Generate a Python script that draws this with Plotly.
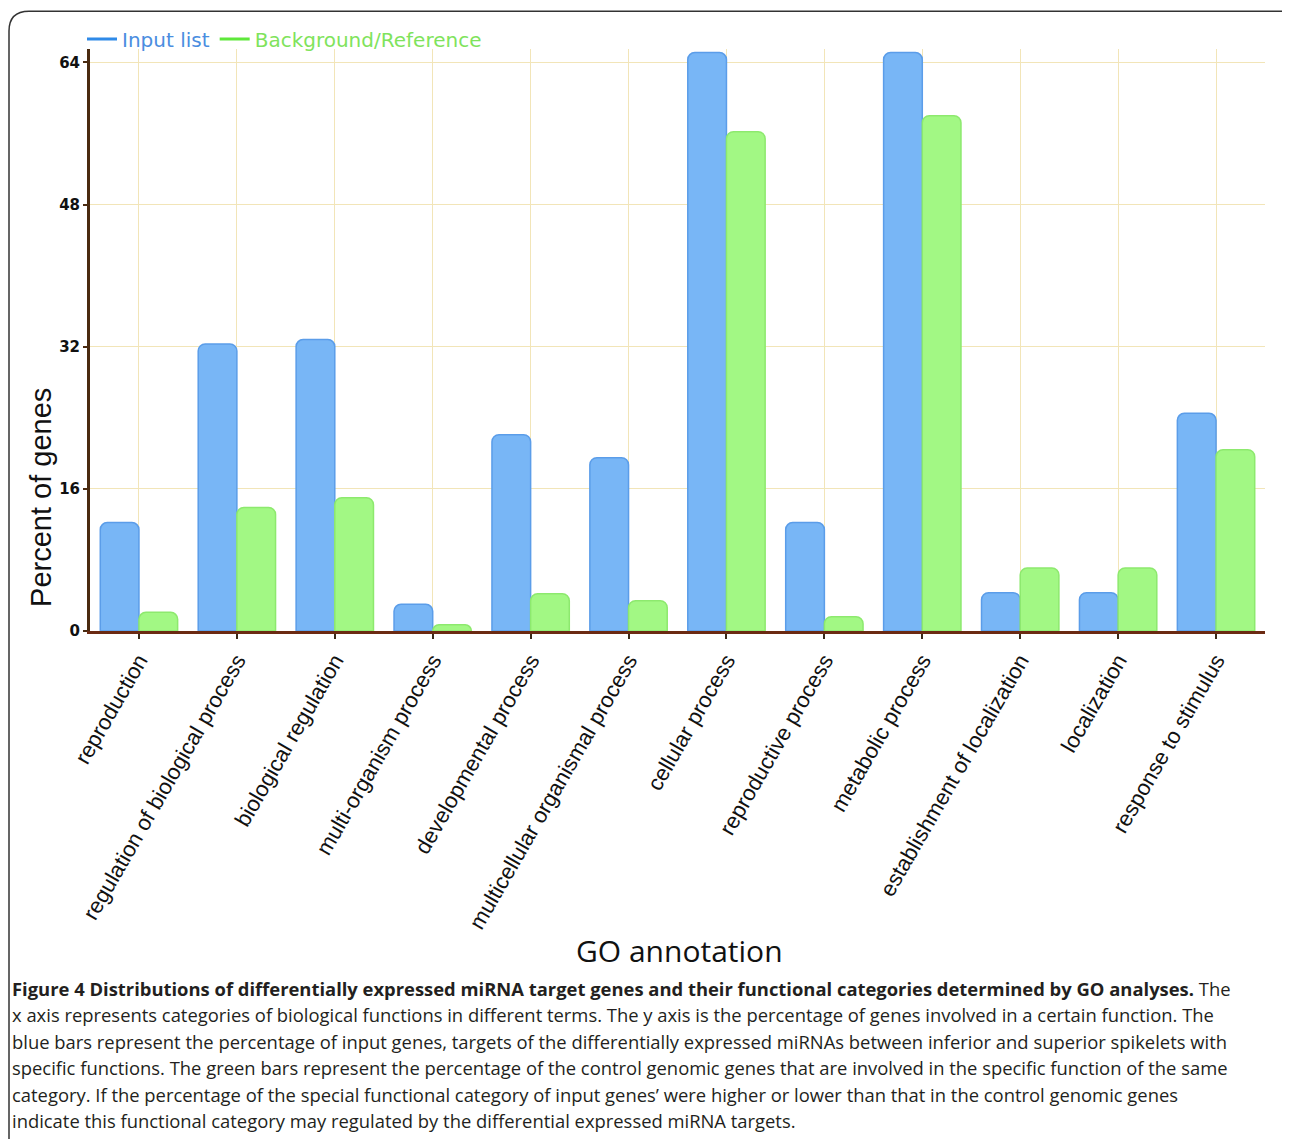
import plotly.graph_objects as go

categories = [
    "reproduction", "regulation of biological process", "biological regulation",
    "multi-organism process", "developmental process", "multicellular organismal process",
    "cellular process", "reproductive process", "metabolic process",
    "establishment of localization", "localization", "response to stimulus",
]
input_list = [12.2, 32.3, 32.8, 3.0, 22.1, 19.5, 65.1, 12.2, 65.1, 4.3, 4.3, 24.5]
background = [2.1, 13.9, 15.0, 0.7, 4.2, 3.4, 56.2, 1.6, 58.0, 7.1, 7.1, 20.4]
y_ticks = [0, 16, 32, 48, 64]

caption_bold = ("Figure 4 Distributions of differentially expressed miRNA target genes "
                "and their functional categories determined by GO analyses.")
caption_lines = [
    "x axis represents categories of biological functions in different terms. The y axis is the percentage of genes involved in a certain function. The",
    "blue bars represent the percentage of input genes, targets of the differentially expressed miRNAs between inferior and superior spikelets with",
    "specific functions. The green bars represent the percentage of the control genomic genes that are involved in the specific function of the same",
    "category. If the percentage of the special functional category of input genes\u2019 were higher or lower than that in the control genomic genes",
    "indicate this functional category may regulated by the differential expressed miRNA targets.",
]

# page is offset by the body margin; work in page pixel coordinates
OFF = 8
W, H = 1290 - OFF, 1139 - OFF
PL, PR, PT, PB = 90, 1265, 45, 631   # plot area in page pixels


def px(x):
    return (x - PL) / (PR - PL)


def py(y):
    return (PB - y) / (PB - PT)


BLUE, BLUE_LINE = "#78b6f6", "#5b9de9"
GREEN, GREEN_LINE = "#a2f884", "#8de96e"

fig = go.Figure()
fig.add_trace(go.Bar(x=categories, y=input_list, name="Input list", showlegend=False,
                     marker=dict(color=BLUE, line=dict(color=BLUE_LINE, width=1.5), cornerradius=7)))
fig.add_trace(go.Bar(x=categories, y=background, name="Background/Reference", showlegend=False,
                     marker=dict(color=GREEN, line=dict(color=GREEN_LINE, width=1.5), cornerradius=7)))
# legend entries (line style like the reference)
fig.add_trace(go.Scatter(x=[None], y=[None], mode="lines", line=dict(color="#2f8ae8", width=3),
                         name="<span style='color:#4a8de0'>Input list</span>"))
fig.add_trace(go.Scatter(x=[None], y=[None], mode="lines", line=dict(color="#5ee83a", width=3),
                         name="<span style='color:#7fe35c'>Background/Reference</span>"))

CAP_FONT = dict(family="Open Sans", size=18.4, color="#231f20")
annotations = [
    dict(text="Percent of genes", x=px(41), y=py(497), xref="paper", yref="paper",
         xanchor="center", yanchor="middle",
         textangle=-90, showarrow=False, font=dict(family="Liberation Sans, Arial", size=29, color="#111")),
    dict(text="GO annotation", x=px(680), y=py(953), xref="paper", yref="paper",
         xanchor="center", yanchor="middle",
         showarrow=False, font=dict(family="Open Sans", size=30, color="#111")),
    dict(text="<b>" + caption_bold + "</b> The", x=px(10), y=py(991), xref="paper", yref="paper",
         xanchor="left", yanchor="middle", showarrow=False, font=CAP_FONT),
]
line_y = [1017, 1044, 1071, 1098, 1124]
for txt, yy in zip(caption_lines, line_y):
    annotations.append(dict(text=txt, x=px(10), y=py(yy), xref="paper", yref="paper",
                            xanchor="left", yanchor="middle", showarrow=False, font=CAP_FONT))

frame_path = (f"M {px(9)},{py(1160)} L {px(9)},{py(27)} Q {px(9)},{py(7)} {px(29)},{py(7)} "
              f"L {px(1282)},{py(7)} Q {px(1289)},{py(7)} {px(1291)},{py(12)}")

fig.update_layout(
    width=W, height=H,
    margin=dict(l=PL - OFF, r=1290 - PR, t=PT - OFF, b=1139 - PB),
    paper_bgcolor="white", plot_bgcolor="white",
    barmode="group", bargap=0.21, bargroupgap=0.0,
    showlegend=True,
    legend=dict(orientation="h", x=px(82), y=py(35), xanchor="left", yanchor="middle",
                font=dict(family="DejaVu Sans", size=20), itemwidth=30,
                bgcolor="rgba(0,0,0,0)", tracegroupgap=0),
    annotations=annotations,
    shapes=[dict(type="path", path=frame_path, xref="paper", yref="paper",
                 line=dict(color="#333333", width=1.5))],
    xaxis=dict(
        type="category", range=[-0.5, len(categories) - 0.5],
        tickangle=-60, tickfont=dict(family="Liberation Sans, Arial", size=22, color="#111"),
        showgrid=True, gridcolor="#f2e5b8", gridwidth=1,
        showline=True, linecolor="#6b2a12", linewidth=3,
        ticks="outside", ticklen=5, tickwidth=2, tickcolor="#3a2a1a",
        automargin=False,
    ),
    yaxis=dict(
        range=[0, 65.5], tickvals=y_ticks,
        tickfont=dict(family="DejaVu Sans", size=15, color="#111", weight="bold"),
        showgrid=True, gridcolor="#f2e5b8", gridwidth=1, zeroline=False,
        showline=True, linecolor="#4a2a10", linewidth=3,
        ticks="outside", ticklen=4, tickwidth=2, tickcolor="#4a2a10",
        automargin=False,
    ),
)

fig.write_html("out.html")
